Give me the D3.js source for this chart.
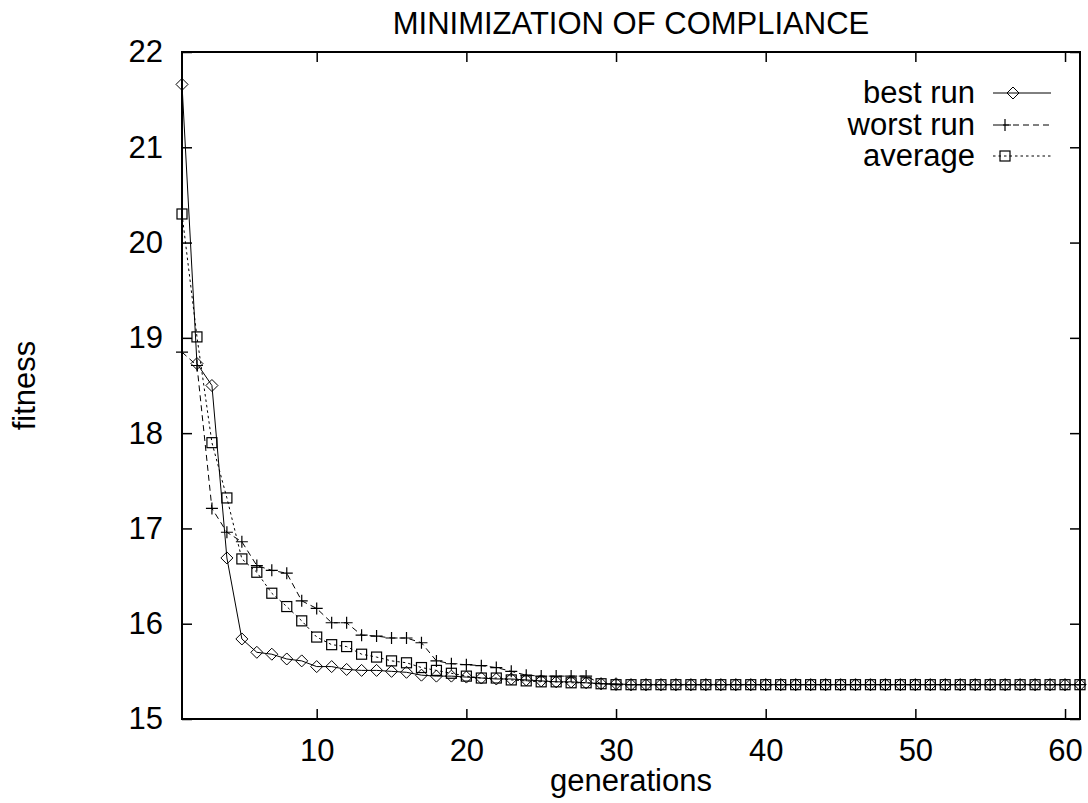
<!DOCTYPE html>
<html>
<head>
<meta charset="utf-8">
<script src="https://cdn.jsdelivr.net/npm/d3@7"></script>
<style>
  html, body { margin: 0; padding: 0; background: #fff; }
  svg { display: block; }
  text { font-family: "Liberation Sans", Arial, Helvetica, sans-serif; fill: #000; }
</style>
</head>
<body>
<svg id="chart" width="1088" height="803"></svg>
<script>
// ---- data ----
const generations = d3.range(1, 62);
const bestRun = [21.66, 18.73, 18.50, 16.69, 15.84, 15.70, 15.68, 15.63, 15.61, 15.55,
  15.55, 15.52, 15.51, 15.51, 15.50, 15.49, 15.46, 15.45, 15.45, 15.44,
  15.43, 15.42, 15.42, 15.41, 15.40, 15.39, 15.39, 15.38, 15.37, 15.37,
  15.36, 15.36, 15.36, 15.36, 15.36, 15.36, 15.36, 15.36, 15.36, 15.36,
  15.36, 15.36, 15.36, 15.36, 15.36, 15.36, 15.36, 15.36, 15.36, 15.36,
  15.36, 15.36, 15.36, 15.36, 15.36, 15.36, 15.36, 15.36, 15.36, 15.36, 15.36];
const worstRun = [18.85, 18.71, 17.21, 16.96, 16.86, 16.61, 16.56, 16.53, 16.24, 16.16,
  16.01, 16.01, 15.88, 15.87, 15.85, 15.85, 15.80, 15.61, 15.58, 15.57,
  15.56, 15.54, 15.50, 15.46, 15.45, 15.45, 15.45, 15.45, 15.37, 15.36,
  15.36, 15.36, 15.36, 15.36, 15.36, 15.36, 15.36, 15.36, 15.36, 15.36,
  15.36, 15.36, 15.36, 15.36, 15.36, 15.36, 15.36, 15.36, 15.36, 15.36,
  15.36, 15.36, 15.36, 15.36, 15.36, 15.36, 15.36, 15.36, 15.36, 15.36, 15.36];
const average = [20.30, 19.01, 17.90, 17.32, 16.68, 16.54, 16.32, 16.18, 16.03, 15.86,
  15.78, 15.76, 15.68, 15.65, 15.61, 15.59, 15.54, 15.51, 15.48, 15.45,
  15.43, 15.43, 15.41, 15.40, 15.39, 15.39, 15.38, 15.38, 15.37, 15.36,
  15.36, 15.36, 15.36, 15.36, 15.36, 15.36, 15.36, 15.36, 15.36, 15.36,
  15.36, 15.36, 15.36, 15.36, 15.36, 15.36, 15.36, 15.36, 15.36, 15.36,
  15.36, 15.36, 15.36, 15.36, 15.36, 15.36, 15.36, 15.36, 15.36, 15.36, 15.36];
const seriesNames = ["best run", "worst run", "average"];
const xTicks = [10, 20, 30, 40, 50, 60];
const yTicks = [15, 16, 17, 18, 19, 20, 21, 22];
const titleText = "MINIMIZATION OF COMPLIANCE";
const xLabel = "generations";
const yLabel = "fitness";

// ---- layout ----
const L = 182, R = 1080, T = 52, B = 719;
const FS = 31;
const svg = d3.select("#chart");

const x = d3.scaleLinear().domain([1, 61]).range([L, R]);
const y = d3.scaleLinear().domain([15, 22]).range([B, T]);

function styleAxis(g, showLabels) {
  g.select(".domain").remove();
  g.selectAll(".tick line").attr("stroke", "#000").attr("stroke-width", 1.5);
  g.selectAll(".tick text").style("font-size", FS + "px")
    .attr("fill", "#000")
    .style("display", showLabels ? null : "none");
}

svg.append("g").attr("transform", `translate(0,${B})`)
  .call(d3.axisBottom(x).tickValues(xTicks).tickSize(-10).tickPadding(20).tickFormat(d3.format("d")))
  .call(g => styleAxis(g, true));
svg.append("g").attr("transform", `translate(0,${T})`)
  .call(d3.axisTop(x).tickValues(xTicks).tickSize(-10))
  .call(g => styleAxis(g, false));
svg.append("g").attr("transform", `translate(${L},0)`)
  .call(d3.axisLeft(y).tickValues(yTicks).tickSize(-10).tickPadding(19).tickFormat(d3.format("d")))
  .call(g => styleAxis(g, true));
svg.append("g").attr("transform", `translate(${R},0)`)
  .call(d3.axisRight(y).tickValues(yTicks).tickSize(-10))
  .call(g => styleAxis(g, false));

// frame
svg.append("rect").attr("x", L).attr("y", T).attr("width", R - L).attr("height", B - T)
  .attr("fill", "none").attr("stroke", "#000").attr("stroke-width", 2);

// markers
const S = 5;
function diamond(sel) {
  sel.append("path").attr("d", `M0,${-S-1}L${S+1},0L0,${S+1}L${-S-1},0Z`)
    .attr("fill", "none").attr("stroke", "#000").attr("stroke-width", 1);
}
function plus(sel) {
  sel.append("path").attr("d", `M${-S-1},0H${S+1}M0,${-S-1}V${S+1}`)
    .attr("fill", "none").attr("stroke", "#000").attr("stroke-width", 1.2);
}
function square(sel) {
  sel.append("rect").attr("x", -S).attr("y", -S).attr("width", 2 * S).attr("height", 2 * S)
    .attr("fill", "none").attr("stroke", "#000").attr("stroke-width", 1.2);
}

const series = [
  { name: seriesNames[0], values: bestRun, dash: null, marker: diamond },
  { name: seriesNames[1], values: worstRun, dash: "6,4", marker: plus },
  { name: seriesNames[2], values: average, dash: "2.5,3", marker: square }
];

const line = d3.line().x((d, i) => x(generations[i])).y(d => y(d));

series.forEach(s => {
  svg.append("path").datum(s.values)
    .attr("d", line)
    .attr("fill", "none").attr("stroke", "#000").attr("stroke-width", 1)
    .attr("stroke-dasharray", s.dash);
  const g = svg.append("g");
  g.selectAll("g").data(s.values).join("g")
    .attr("transform", (d, i) => `translate(${x(generations[i])},${y(d)})`)
    .each(function () { s.marker(d3.select(this)); });
});

// legend
const legendBase = [103, 135, 166];
const markerX = [1013, 1005, 1005];
series.forEach((s, i) => {
  const by = legendBase[i];
  svg.append("text").attr("x", 975).attr("y", by).attr("text-anchor", "end")
    .style("font-size", FS + "px").text(s.name);
  const ly = by - 10;
  svg.append("line").attr("x1", 993).attr("x2", 1051).attr("y1", ly).attr("y2", ly)
    .attr("stroke", "#000").attr("stroke-width", 1).attr("stroke-dasharray", s.dash);
  const mg = svg.append("g").attr("transform", `translate(${markerX[i]},${ly})`);
  s.marker(mg);
});

// title and axis labels
svg.append("text").attr("x", (L + R) / 2).attr("y", 34).attr("text-anchor", "middle")
  .style("font-size", FS + "px").text(titleText);
svg.append("text").attr("x", (L + R) / 2).attr("y", 791).attr("text-anchor", "middle")
  .style("font-size", FS + "px").text(xLabel);
svg.append("text").attr("transform", `translate(35,${(T + B) / 2}) rotate(-90)`)
  .attr("text-anchor", "middle").style("font-size", FS + "px").text(yLabel);
</script>
</body>
</html>
